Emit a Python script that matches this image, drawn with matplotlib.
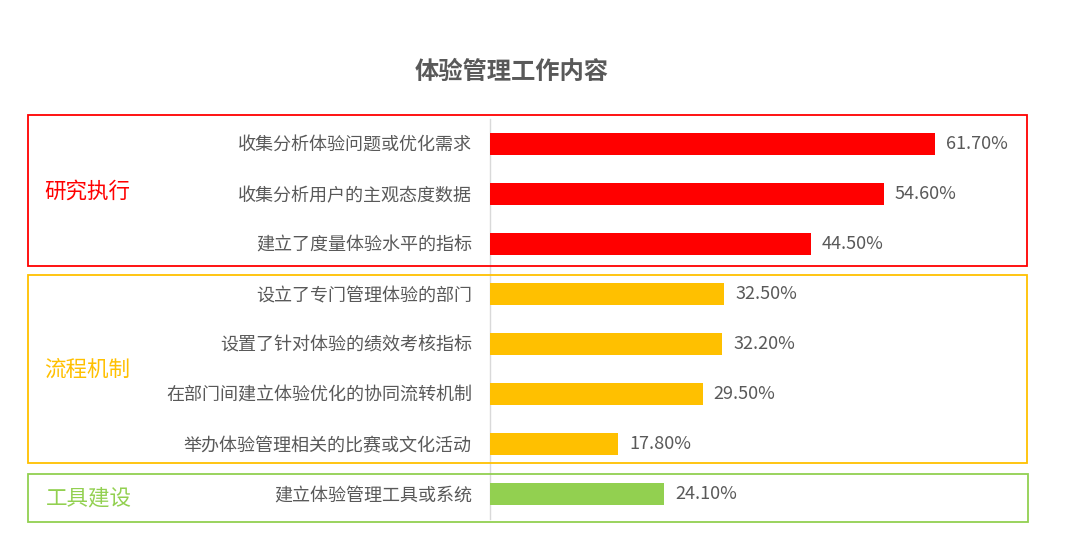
import matplotlib
matplotlib.use("Agg")
import matplotlib.pyplot as plt
from matplotlib.patches import Rectangle

plt.rcParams['font.family'] = ['Noto Sans CJK SC', 'DejaVu Sans']

title = "体验管理工作内容"
categories = ["收集分析体验问题或优化需求", "收集分析用户的主观态度数据", "建立了度量体验水平的指标",
              "设立了专门管理体验的部门", "设置了针对体验的绩效考核指标", "在部门间建立体验优化的协同流转机制",
              "举办体验管理相关的比赛或文化活动", "建立体验管理工具或系统"]
values = [61.7, 54.6, 44.5, 32.5, 32.2, 29.5, 17.8, 24.1]
groups = ["研究执行", "流程机制", "工具建设"]
group_of = [0, 0, 0, 1, 1, 1, 1, 2]
group_colors = ["#ff0000", "#ffc000", "#92d050"]

W, H = 1071, 555
fig = plt.figure(figsize=(W / 100, H / 100), dpi=100)
fig.patch.set_facecolor("white")

def fx(px):
    return px / W

def fy(py):
    return 1 - py / H

# axes: x=0 at pixel 490, 7.21 px per percent; rows 50px apart starting 143
ax_left, ax_right = 490, 490 + 80 * 7.21
ax_top, ax_bot = 119, 519
ax = fig.add_axes([fx(ax_left), fy(ax_bot), fx(ax_right - ax_left), (ax_bot - ax_top) / H])
ax.set_xlim(0, 80)
ax.set_ylim(len(categories) - 0.5, -0.5)
ax.patch.set_alpha(0)

ypos = list(range(len(categories)))
colors = [group_colors[g] for g in group_of]
bars = ax.barh(ypos, values, height=0.44, color=colors, zorder=3)
for y, v in zip(ypos, values):
    ax.annotate(f"{v:.2f}%", (v, y), xytext=(8, 0), textcoords="offset points",
                va="center", ha="left", fontsize=13, color="#595959")

ax.set_yticks(ypos)
ax.set_yticklabels(categories, fontsize=13, color="#595959")
ax.tick_params(axis="y", length=0, pad=13)
ax.set_xticks([])
for s in ["top", "right", "bottom"]:
    ax.spines[s].set_visible(False)
ax.spines["left"].set_color("#d9d9d9")
ax.spines["left"].set_linewidth(1.0)

# title
fig.text(fx(511.5), fy(72), title, ha="center", va="center", fontsize=17.5, fontweight="bold", color="#595959")

# group boxes
boxes = [(28, 115, 1027, 266), (28, 275, 1027, 463), (28, 474, 1028, 522)]
label_pos = [(44, 192), (44, 370), (46, 498)]
for (x0, y0, x1, y1), col, name, (lx, ly) in zip(boxes, group_colors, groups, label_pos):
    rect = Rectangle((fx(x0), fy(y1)), fx(x1 - x0), (y1 - y0) / H, transform=fig.transFigure,
                     fill=False, edgecolor=col, linewidth=1.3)
    fig.add_artist(rect)
    fig.text(fx(lx), fy(ly), name, ha="left", va="center", fontsize=15.5, color=col)

fig.savefig("out.png", dpi=100, facecolor="white")
